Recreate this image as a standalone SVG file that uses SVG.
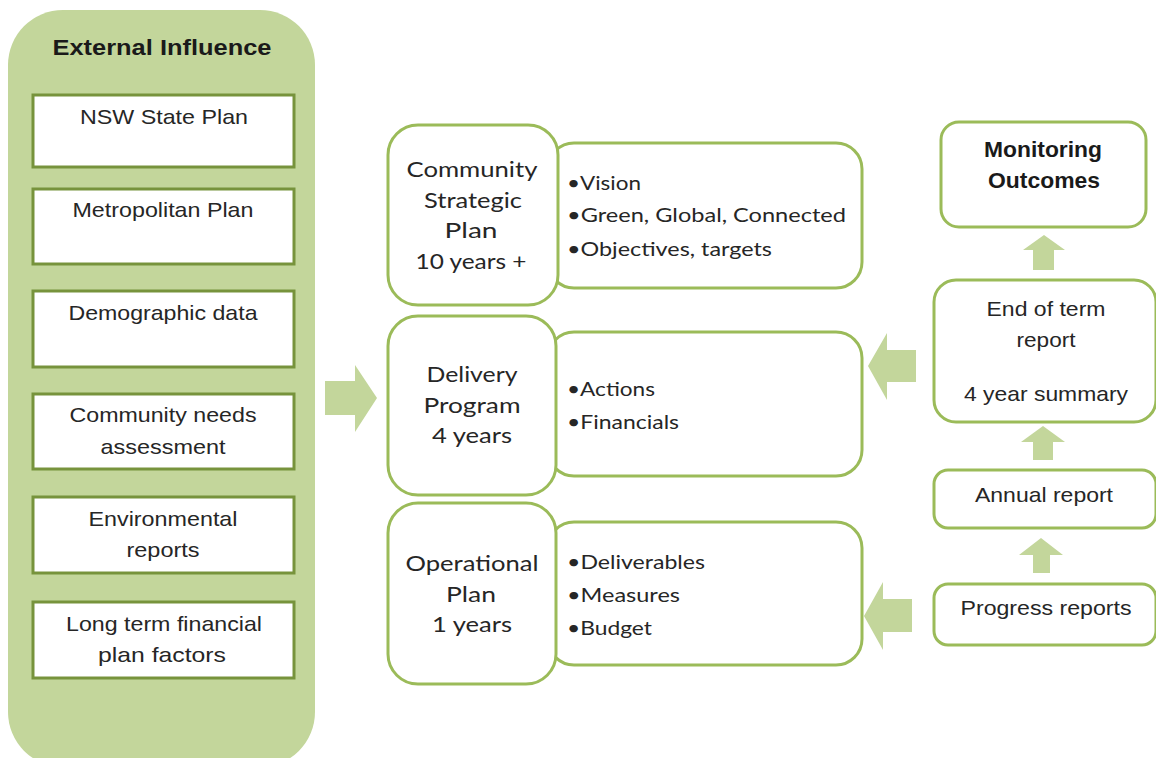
<svg xmlns="http://www.w3.org/2000/svg" width="1156" height="758" viewBox="0 0 1156 758">
<style>
.panel{fill:#c3d69b}
.ib{fill:#fff;stroke:#77933c;stroke-width:3}
.gb{fill:#fff;stroke:#9bbb59;stroke-width:3}
.ar{fill:#c3d69b}
.t{font-family:"Liberation Sans",Arial,sans-serif;font-size:21px;fill:#262626;text-anchor:middle}
.tb{font-family:"Liberation Sans",Arial,sans-serif;font-size:22px;font-weight:bold;fill:#1a1a1a;text-anchor:middle}
.c{font-family:Lato,"Open Sans",sans-serif;font-size:22px;fill:#262626;text-anchor:middle}
.bl{font-family:Lato,"Open Sans",sans-serif;font-size:20px;fill:#262626}
</style>
<rect width="1156" height="758" fill="#fff"/>
<g id="external">
<rect class="panel" x="8" y="10" width="307" height="757" rx="55"/>
<text class="tb" x="162" y="55" font-size="23" textLength="219" lengthAdjust="spacingAndGlyphs">External Influence</text>
</g>
<g id="nsw"><rect class="ib" x="33" y="95" width="261" height="72"/><text class="t" x="164" y="124" textLength="168" lengthAdjust="spacingAndGlyphs">NSW State Plan</text></g>
<g id="metro"><rect class="ib" x="33" y="189" width="261" height="75"/><text class="t" x="163" y="217" textLength="181" lengthAdjust="spacingAndGlyphs">Metropolitan Plan</text></g>
<g id="demo"><rect class="ib" x="33" y="291" width="261" height="76"/><text class="t" x="163" y="320" textLength="189" lengthAdjust="spacingAndGlyphs">Demographic data</text></g>
<g id="needs"><rect class="ib" x="33" y="394" width="261" height="75"/><text class="t" x="163" y="422" textLength="187" lengthAdjust="spacingAndGlyphs">Community needs</text><text class="t" x="163" y="454" textLength="125" lengthAdjust="spacingAndGlyphs">assessment</text></g>
<g id="env"><rect class="ib" x="33" y="497" width="261" height="76"/><text class="t" x="163" y="526" textLength="149" lengthAdjust="spacingAndGlyphs">Environmental</text><text class="t" x="163" y="557" textLength="73" lengthAdjust="spacingAndGlyphs">reports</text></g>
<g id="ltfp"><rect class="ib" x="33" y="602" width="261" height="76"/><text class="t" x="164" y="631" textLength="196" lengthAdjust="spacingAndGlyphs">Long term financial</text><text class="t" x="162" y="662" textLength="128" lengthAdjust="spacingAndGlyphs">plan factors</text></g>

<g id="connectors">
<polygon class="ar" points="325,381 355,381 355,365 377,398 355,432 355,415 325,415"/>
<polygon class="ar" points="916,350 887,350 887,333 868,366 887,400 887,382 916,382"/>
<polygon class="ar" points="912,599 883,599 883,582 864,616 883,650 883,632 912,632"/>
<polygon class="ar" points="1033,270 1033,250 1023,250 1044,235 1065,250 1054,250 1054,270"/>
<polygon class="ar" points="1033,460 1033,442 1021,442 1043,426 1065,442 1053,442 1053,460"/>
<polygon class="ar" points="1033,573 1033,555 1019,555 1041,538 1063,555 1050,555 1050,573"/>
</g>

<g id="csp-detail"><rect class="gb" x="548" y="143" width="314" height="145" rx="26"/>
<text class="bl" x="567" y="190" textLength="74" lengthAdjust="spacingAndGlyphs">•Vision</text><text class="bl" x="567" y="222" textLength="279" lengthAdjust="spacingAndGlyphs">•Green, Global, Connected</text><text class="bl" x="567" y="256" textLength="205" lengthAdjust="spacingAndGlyphs">•Objectives, targets</text></g>
<g id="csp"><rect class="gb" x="388" y="125" width="170" height="180" rx="30"/>
<text class="c" x="472" y="177" textLength="131" lengthAdjust="spacingAndGlyphs">Community</text><text class="c" x="473" y="208" textLength="98" lengthAdjust="spacingAndGlyphs">Strategic</text><text class="c" x="471" y="238" textLength="53" lengthAdjust="spacingAndGlyphs">Plan</text><text class="c" x="471" y="269" textLength="111" lengthAdjust="spacingAndGlyphs">10 years +</text></g>

<g id="dp-detail"><rect class="gb" x="548" y="332" width="314" height="144" rx="26"/>
<text class="bl" x="567" y="396" textLength="88" lengthAdjust="spacingAndGlyphs">•Actions</text><text class="bl" x="567" y="429" textLength="112" lengthAdjust="spacingAndGlyphs">•Financials</text></g>
<g id="dp"><rect class="gb" x="388" y="316" width="168" height="179" rx="30"/>
<text class="c" x="472" y="382" textLength="91" lengthAdjust="spacingAndGlyphs">Delivery</text><text class="c" x="472" y="413" textLength="97" lengthAdjust="spacingAndGlyphs">Program</text><text class="c" x="472" y="443" textLength="80" lengthAdjust="spacingAndGlyphs">4 years</text></g>

<g id="op-detail"><rect class="gb" x="548" y="522" width="314" height="143" rx="26"/>
<text class="bl" x="567" y="569" textLength="138" lengthAdjust="spacingAndGlyphs">•Deliverables</text><text class="bl" x="567" y="602" textLength="113" lengthAdjust="spacingAndGlyphs">•Measures</text><text class="bl" x="567" y="635" textLength="85" lengthAdjust="spacingAndGlyphs">•Budget</text></g>
<g id="op"><rect class="gb" x="388" y="503" width="168" height="181" rx="30"/>
<text class="c" x="472" y="571" textLength="133" lengthAdjust="spacingAndGlyphs">Operational</text><text class="c" x="471" y="602" textLength="50" lengthAdjust="spacingAndGlyphs">Plan</text><text class="c" x="472" y="632" textLength="80" lengthAdjust="spacingAndGlyphs">1 years</text></g>

<g id="monitoring"><rect class="gb" x="941" y="122" width="205" height="105" rx="18"/>
<text class="tb" x="1043" y="157" textLength="118" lengthAdjust="spacingAndGlyphs">Monitoring</text><text class="tb" x="1044" y="188" textLength="112" lengthAdjust="spacingAndGlyphs">Outcomes</text></g>
<g id="endterm"><rect class="gb" x="934" y="280" width="222" height="142" rx="22"/>
<text class="t" x="1046" y="316" textLength="119" lengthAdjust="spacingAndGlyphs">End of term</text><text class="t" x="1046" y="347" textLength="59" lengthAdjust="spacingAndGlyphs">report</text><text class="t" x="1046" y="401" textLength="164" lengthAdjust="spacingAndGlyphs">4 year summary</text></g>
<g id="annual"><rect class="gb" x="934" y="470" width="222" height="58" rx="14"/>
<text class="t" x="1044" y="502" textLength="138" lengthAdjust="spacingAndGlyphs">Annual report</text></g>
<g id="progress"><rect class="gb" x="934" y="584" width="222" height="61" rx="14"/>
<text class="t" x="1046" y="615" textLength="171" lengthAdjust="spacingAndGlyphs">Progress reports</text></g>
</svg>
